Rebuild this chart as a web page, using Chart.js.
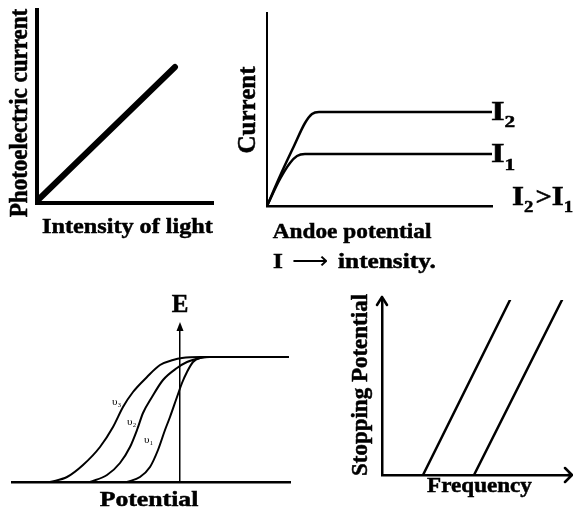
<!DOCTYPE html>
<html>
<head>
<meta charset="utf-8">
<script src="https://cdn.jsdelivr.net/npm/chart.js@4.4.1/dist/chart.umd.min.js"></script>
<style>
    body { margin: 0; background: #fff; }
    #sheet { position: relative; width: 573px; height: 509px; background: #fff; }
    #sheet canvas { position: absolute; left: 0; top: 0; }
</style>
</head>
<body>
<div id="sheet">
    <canvas id="chart-intensity" width="573" height="509"></canvas>
    <canvas id="chart-anode" width="573" height="509"></canvas>
    <canvas id="chart-energy" width="573" height="509"></canvas>
    <canvas id="chart-stopping" width="573" height="509"></canvas>
</div>
<script>
// Panel 1: photoelectric current vs intensity of light
const intensityValues = [0.1, 13.8];
const photoCurrentValues = [0.3, 13.6];

// Panel 2: current vs anode potential for two intensities
const anodePotentialI2 = [0, 1.3, 2.7, 3.8, 4.5, 5.2, 22.5];
const currentI2 = [0, 3.0, 6.0, 8.3, 9.2, 9.4, 9.4];
const anodePotentialI1 = [0, 1.3, 2.3, 3.0, 3.8, 22.5];
const currentI1 = [0, 2.7, 4.3, 5.0, 5.2, 5.2];

// Panel 3: energy vs potential for three frequencies
const potentialV3 = [-13, -11.3, -9.7, -8, -6.7, -5.7, -4.7, -3.3, -2, -0.7, 0.2, 2, 10.8];
const energyV3 = [0, 0.5, 1.7, 3.5, 5.5, 7.5, 9.0, 10.5, 11.7, 12.2, 12.4, 12.5, 12.5];
const potentialV2 = [-9, -7.3, -6, -5, -4.3, -3.7, -2.8, -1.7, -0.3, 0.7, 2, 2.7, 10.8];
const energyV2 = [0, 0.7, 1.9, 3.5, 5.2, 6.9, 8.5, 10.2, 11.4, 12.0, 12.4, 12.5, 12.5];
const potentialV1 = [-5.3, -4, -3, -2.2, -1.5, -1, -0.3, 0.2, 0.7, 1.3, 2, 3, 10.8];
const energyV1 = [0, 0.5, 1.5, 3.2, 5.2, 6.5, 8.5, 9.9, 11.0, 12.0, 12.4, 12.5, 12.5];
const frequencyLabels = ['υ₃', 'υ₂', 'υ₁'];

// Panel 4: stopping potential vs frequency for two metals
const frequencyMetalA = [4.1, 12.8];
const stoppingMetalA = [0, 17.5];
const frequencyMetalB = [9.2, 18.0];
const stoppingMetalB = [0, 17.5];

const SERIF = '"Liberation Serif", "Times New Roman", serif';

const Sketch = {
    /**
     * Zip two value arrays into {x, y} points
     */
    points(xs, ys) {
        return xs.map((x, i) => ({ x: x, y: ys[i] }));
    },

    /**
     * Line dataset in plain black
     */
    line(xs, ys, width, smooth) {
        return {
            data: this.points(xs, ys),
            showLine: true,
            borderColor: '#000',
            borderWidth: width,
            pointRadius: 0,
            borderCapStyle: 'round',
            borderJoinStyle: 'round',
            cubicInterpolationMode: smooth ? 'monotone' : 'default',
            tension: 0
        };
    },

    /**
     * Bare axis: only its border line is drawn
     */
    axis(min, max, width, extra = {}) {
        return Object.assign({
            type: 'linear',
            display: true,
            min: min,
            max: max,
            grid: { display: false, drawTicks: false },
            ticks: { display: false },
            border: { display: true, color: '#000', width: width }
        }, extra);
    },

    /**
     * Draw one text item; parts let subscripts share a baseline
     */
    drawText(ctx, item) {
        ctx.save();
        ctx.translate(item.x, item.y);
        ctx.scale(item.sx || 1, 1);
        if (item.rotate) ctx.rotate(item.rotate);
        ctx.fillStyle = '#000';
        ctx.strokeStyle = '#000';
        ctx.lineWidth = 0.5;
        ctx.textBaseline = 'alphabetic';
        if (item.parts) {
            ctx.textAlign = 'left';
            let cx = 0;
            item.parts.forEach(p => {
                ctx.font = `${p.weight || 'bold'} ${p.size}px ${SERIF}`;
                ctx.fillText(p.text, cx, p.dy || 0);
                if (p.weight !== 'normal') ctx.strokeText(p.text, cx, p.dy || 0);
                cx += ctx.measureText(p.text).width + (p.gap || 0);
            });
        } else {
            ctx.textAlign = item.align || 'center';
            ctx.font = `${item.weight || 'bold'} ${item.size}px ${SERIF}`;
            ctx.fillText(item.text, 0, 0);
            if (item.weight !== 'normal') ctx.strokeText(item.text, 0, 0);
        }
        ctx.restore();
    },

    textPlugin(items) {
        return {
            id: 'sketchText',
            afterDraw(chart) {
                items.forEach(item => Sketch.drawText(chart.ctx, item));
            }
        };
    },

    /**
     * Build a chart on a full-sheet canvas; padding sets the plot box
     */
    create(canvasId, datasets, scales, padding, plugins) {
        return new Chart(document.getElementById(canvasId), {
            type: 'scatter',
            data: { datasets: datasets },
            options: {
                responsive: false,
                animation: false,
                layout: { padding: padding, autoPadding: false },
                plugins: { legend: { display: false }, tooltip: { enabled: false } },
                scales: scales
            },
            plugins: plugins
        });
    }
};

const UP = -Math.PI / 2;

// ---- Panel 1 ----
Sketch.create('chart-intensity',
    [Sketch.line(intensityValues, photoCurrentValues, 6, false)],
    { x: Sketch.axis(0, 17.6, 4), y: Sketch.axis(0, 19.3, 4) },
    { left: 37, top: 10, right: 573 - 213, bottom: 509 - 203 },
    [Sketch.textPlugin([
        { text: 'Photoelectric current', x: 27, y: 113, size: 23, rotate: UP, sx: 1.05 },
        { text: 'Intensity of light', x: 127.5, y: 233, size: 22, sx: 1.10 }
    ])]
);

// ---- Panel 2 ----
Sketch.create('chart-anode',
    [
        Sketch.line(anodePotentialI2, currentI2, 2.5, true),
        Sketch.line(anodePotentialI1, currentI1, 2.5, true)
    ],
    { x: Sketch.axis(0, 22.5, 2.5), y: Sketch.axis(0, 19.3, 2) },
    { left: 267, top: 13, right: 573 - 492, bottom: 509 - 206 },
    [Sketch.textPlugin([
        { text: 'Current', x: 255, y: 110, size: 25, rotate: UP },
        { text: 'Andoe potential', x: 352, y: 238, size: 22, sx: 1.06 },
        { x: 491, y: 120, sx: 1.25, parts: [
            { text: 'I', size: 28 }, { text: '2', size: 17, dy: 7 }] },
        { x: 491, y: 162, sx: 1.25, parts: [
            { text: 'I', size: 28 }, { text: '1', size: 17, dy: 8 }] },
        { x: 512, y: 205, sx: 1.1, parts: [
            { text: 'I', size: 28 }, { text: '2', size: 17, dy: 7, gap: 2 },
            { text: '>', size: 26 }, { text: 'I', size: 28 }, { text: '1', size: 17, dy: 7 }] },
        { x: 273, y: 268, sx: 1.15, parts: [
            { text: 'I', size: 22, gap: 8 }, { text: '⟶', size: 22, weight: 'normal', gap: 8 },
            { text: 'intensity.', size: 22 }] }
    ])]
);

// ---- Panel 3 ----
const energyCurves = [
    [potentialV3, energyV3],
    [potentialV2, energyV2],
    [potentialV1, energyV1]
];
Sketch.create('chart-energy',
    energyCurves.map(c => Sketch.line(c[0], c[1], 2, true)),
    {
        x: Sketch.axis(-16.8, 11.0, 2.5),
        y: Sketch.axis(0, 15.6, 1.5, { position: { x: 0 } })
    },
    { left: 12, top: 326, right: 573 - 290, bottom: 509 - 482 },
    [
        Sketch.textPlugin([
            { text: 'E', x: 180, y: 312, size: 25 },
            { text: 'Potential', x: 149, y: 506, size: 22, sx: 1.17 },
            { text: frequencyLabels[0], x: 112, y: 405, size: 11, weight: 'normal', align: 'left' },
            { text: frequencyLabels[1], x: 127, y: 425, size: 11, weight: 'normal', align: 'left' },
            { text: frequencyLabels[2], x: 144, y: 443, size: 11, weight: 'normal', align: 'left' }
        ]),
        {
            id: 'energyArrow',
            afterDraw(chart) {
                const ctx = chart.ctx;
                const x = chart.scales.x.getPixelForValue(0);
                const top = chart.chartArea.top;
                ctx.save();
                ctx.fillStyle = '#000';
                ctx.beginPath();
                ctx.moveTo(x, top - 4);
                ctx.lineTo(x - 3.5, top + 5);
                ctx.lineTo(x + 3.5, top + 5);
                ctx.closePath();
                ctx.fill();
                ctx.restore();
            }
        }
    ]
);

// ---- Panel 4 ----
Sketch.create('chart-stopping',
    [
        Sketch.line(frequencyMetalA, stoppingMetalA, 2.5, false),
        Sketch.line(frequencyMetalB, stoppingMetalB, 2.5, false)
    ],
    { x: Sketch.axis(0, 18.6, 2.5), y: Sketch.axis(0, 17.5, 2.5) },
    { left: 382, top: 300, right: 573 - 568, bottom: 509 - 475 },
    [
        Sketch.textPlugin([
            { text: 'Stopping Potential', x: 367, y: 385, size: 23, rotate: UP },
            { text: 'Frequency', x: 479.5, y: 492, size: 21, sx: 1.1 }
        ]),
        {
            id: 'stoppingArrows',
            afterDraw(chart) {
                const ctx = chart.ctx;
                const area = chart.chartArea;
                ctx.save();
                ctx.strokeStyle = '#000';
                ctx.lineWidth = 2.5;
                ctx.lineCap = 'round';
                ctx.lineJoin = 'round';
                ctx.beginPath();
                // vertical arrow
                ctx.moveTo(area.left, area.top);
                ctx.lineTo(area.left, area.top - 3);
                ctx.moveTo(area.left - 5, area.top + 5);
                ctx.lineTo(area.left, area.top - 3);
                ctx.lineTo(area.left + 5, area.top + 5);
                // horizontal arrow
                ctx.moveTo(area.right, area.bottom);
                ctx.lineTo(area.right + 4, area.bottom);
                ctx.moveTo(area.right - 3, area.bottom - 7);
                ctx.lineTo(area.right + 4, area.bottom);
                ctx.lineTo(area.right - 3, area.bottom + 7);
                ctx.stroke();
                ctx.restore();
            }
        }
    ]
);
</script>
</body>
</html>
